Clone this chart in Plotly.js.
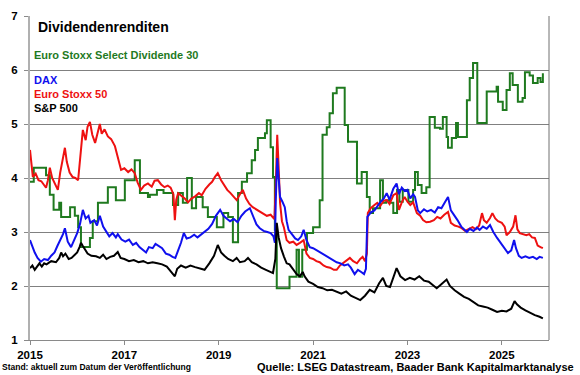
<!DOCTYPE html>
<html>
<head>
<meta charset="utf-8">
<script src="https://cdn.plot.ly/plotly-3.0.1.min.js"></script>
<style>html,body{margin:0;padding:0;background:#fff;}#chart{width:580px;height:375px;}</style>
</head>
<body>
<div id="chart"></div>
<script>
// ---- Data (decimal years, dividend yield in %) ----
const spT = [2015.0,2015.05,2015.1,2015.15,2015.2,2015.25,2015.3,2015.35,2015.45,2015.55,2015.62,2015.66,2015.7,2015.75,2015.82,2015.88,2015.95,2016.0,2016.05,2016.08,2016.12,2016.17,2016.22,2016.3,2016.4,2016.48,2016.55,2016.62,2016.7,2016.78,2016.86,2016.92,2017.0,2017.1,2017.2,2017.3,2017.4,2017.5,2017.6,2017.7,2017.8,2017.9,2018.0,2018.07,2018.12,2018.2,2018.3,2018.4,2018.5,2018.6,2018.7,2018.8,2018.9,2018.98,2019.05,2019.12,2019.2,2019.3,2019.38,2019.45,2019.55,2019.62,2019.7,2019.8,2019.9,2020.0,2020.1,2020.15,2020.2,2020.23,2020.27,2020.32,2020.38,2020.44,2020.5,2020.58,2020.65,2020.72,2020.78,2020.82,2020.9,2021.0,2021.1,2021.2,2021.3,2021.4,2021.5,2021.6,2021.7,2021.8,2021.9,2022.0,2022.1,2022.2,2022.3,2022.4,2022.48,2022.55,2022.63,2022.7,2022.77,2022.85,2022.95,2023.05,2023.15,2023.25,2023.35,2023.45,2023.55,2023.62,2023.7,2023.78,2023.83,2023.9,2024.0,2024.1,2024.2,2024.3,2024.4,2024.5,2024.6,2024.7,2024.8,2024.9,2025.0,2025.1,2025.2,2025.27,2025.32,2025.4,2025.5,2025.6,2025.7,2025.8,2025.87];
const spV = [2.33,2.38,2.30,2.36,2.42,2.36,2.42,2.40,2.46,2.44,2.52,2.62,2.55,2.60,2.50,2.52,2.58,2.62,2.72,2.80,2.74,2.66,2.60,2.56,2.55,2.52,2.58,2.50,2.54,2.56,2.63,2.52,2.50,2.46,2.48,2.44,2.46,2.42,2.44,2.42,2.40,2.36,2.26,2.18,2.32,2.38,2.34,2.38,2.35,2.33,2.30,2.42,2.56,2.76,2.62,2.56,2.50,2.46,2.52,2.44,2.46,2.52,2.44,2.40,2.34,2.30,2.26,2.24,2.50,3.17,2.90,2.70,2.55,2.42,2.40,2.30,2.22,2.18,2.26,2.18,2.08,2.04,1.98,1.96,1.92,1.93,1.89,1.86,1.90,1.82,1.78,1.74,1.82,1.93,1.88,2.05,2.15,2.00,1.98,2.15,2.33,2.18,2.11,2.15,2.12,2.18,2.10,2.08,2.00,1.96,2.02,2.08,2.12,2.00,1.92,1.86,1.80,1.76,1.70,1.64,1.62,1.60,1.56,1.52,1.54,1.53,1.58,1.72,1.66,1.60,1.55,1.50,1.46,1.43,1.40];

const daxT = [2015.0,2015.04,2015.1,2015.16,2015.23,2015.3,2015.38,2015.45,2015.52,2015.58,2015.65,2015.7,2015.74,2015.8,2015.87,2015.93,2016.0,2016.06,2016.12,2016.18,2016.24,2016.28,2016.36,2016.42,2016.48,2016.55,2016.62,2016.68,2016.75,2016.82,2016.86,2016.94,2017.02,2017.1,2017.18,2017.25,2017.32,2017.4,2017.46,2017.52,2017.6,2017.66,2017.72,2017.8,2017.88,2017.95,2018.02,2018.08,2018.14,2018.2,2018.26,2018.32,2018.4,2018.48,2018.55,2018.62,2018.7,2018.78,2018.86,2018.94,2019.03,2019.1,2019.18,2019.24,2019.32,2019.4,2019.48,2019.56,2019.66,2019.72,2019.8,2019.87,2019.95,2020.03,2020.1,2020.16,2020.19,2020.21,2020.24,2020.27,2020.3,2020.35,2020.4,2020.44,2020.48,2020.55,2020.62,2020.68,2020.75,2020.8,2020.86,2020.93,2021.0,2021.08,2021.14,2021.22,2021.3,2021.38,2021.45,2021.5,2021.58,2021.66,2021.74,2021.8,2021.88,2021.95,2022.02,2022.08,2022.12,2022.15,2022.22,2022.3,2022.35,2022.42,2022.5,2022.56,2022.62,2022.7,2022.77,2022.82,2022.88,2022.94,2023.0,2023.06,2023.12,2023.16,2023.22,2023.27,2023.35,2023.42,2023.5,2023.58,2023.65,2023.72,2023.8,2023.86,2023.92,2024.0,2024.06,2024.14,2024.2,2024.26,2024.32,2024.4,2024.47,2024.53,2024.6,2024.68,2024.75,2024.82,2024.9,2024.98,2025.05,2025.13,2025.2,2025.26,2025.3,2025.36,2025.42,2025.5,2025.58,2025.66,2025.74,2025.8,2025.87];
const daxV = [2.85,2.75,2.62,2.52,2.45,2.50,2.48,2.56,2.62,2.74,2.86,2.96,3.07,2.82,2.72,2.84,2.98,3.15,3.41,3.25,3.30,3.17,3.22,3.12,3.30,3.10,3.00,2.92,2.98,2.90,2.96,2.86,2.82,2.86,2.76,2.80,2.72,2.66,2.62,2.72,2.70,2.78,2.74,2.70,2.60,2.58,2.54,2.52,2.66,2.80,2.98,2.88,2.90,2.95,2.90,2.95,3.00,3.06,3.15,3.30,3.41,3.30,3.24,3.20,3.24,3.18,3.30,3.38,3.44,3.30,3.14,3.07,3.02,3.00,2.98,2.92,2.80,3.60,4.37,4.00,3.65,3.56,3.46,3.20,3.04,2.96,2.88,2.85,2.92,3.04,2.85,2.72,2.70,2.66,2.63,2.58,2.54,2.50,2.46,2.44,2.42,2.38,2.40,2.34,2.22,2.30,2.26,2.22,2.32,3.28,3.36,3.40,3.46,3.55,3.62,3.72,3.60,3.80,3.90,3.70,3.82,3.76,3.78,3.62,3.70,3.65,3.40,3.35,3.42,3.38,3.41,3.36,3.46,3.44,3.56,3.65,3.40,3.30,3.22,3.10,3.05,3.00,3.06,3.02,3.08,3.04,3.10,3.06,3.13,3.00,2.89,2.80,2.72,2.61,2.66,2.85,2.70,2.56,2.52,2.55,2.52,2.54,2.50,2.54,2.52];

const sx5T = [2015.0,2015.03,2015.06,2015.12,2015.18,2015.24,2015.3,2015.34,2015.38,2015.42,2015.47,2015.53,2015.59,2015.64,2015.7,2015.74,2015.78,2015.84,2015.9,2015.96,2016.02,2016.06,2016.12,2016.18,2016.22,2016.27,2016.32,2016.38,2016.43,2016.48,2016.52,2016.58,2016.65,2016.72,2016.8,2016.86,2016.93,2017.0,2017.08,2017.15,2017.22,2017.28,2017.35,2017.42,2017.5,2017.58,2017.64,2017.71,2017.78,2017.85,2017.92,2017.98,2018.04,2018.07,2018.1,2018.14,2018.2,2018.28,2018.35,2018.42,2018.5,2018.58,2018.64,2018.72,2018.8,2018.86,2018.92,2018.98,2019.05,2019.12,2019.18,2019.25,2019.32,2019.38,2019.45,2019.51,2019.58,2019.65,2019.72,2019.8,2019.88,2019.95,2020.02,2020.1,2020.14,2020.18,2020.21,2020.24,2020.27,2020.3,2020.34,2020.38,2020.44,2020.5,2020.58,2020.65,2020.72,2020.8,2020.86,2020.93,2021.0,2021.07,2021.14,2021.22,2021.29,2021.36,2021.44,2021.5,2021.57,2021.63,2021.7,2021.78,2021.85,2021.93,2022.0,2022.05,2022.1,2022.14,2022.16,2022.22,2022.3,2022.36,2022.42,2022.5,2022.56,2022.62,2022.7,2022.77,2022.82,2022.88,2022.94,2023.0,2023.06,2023.12,2023.2,2023.27,2023.33,2023.4,2023.48,2023.56,2023.63,2023.7,2023.78,2023.86,2023.92,2024.0,2024.08,2024.15,2024.22,2024.3,2024.38,2024.45,2024.52,2024.58,2024.62,2024.68,2024.75,2024.8,2024.86,2024.92,2025.0,2025.06,2025.1,2025.17,2025.24,2025.29,2025.33,2025.38,2025.45,2025.52,2025.58,2025.64,2025.7,2025.76,2025.82,2025.87];
const sx5V = [4.52,4.30,4.02,4.08,3.96,3.94,3.88,3.82,3.96,4.19,4.00,3.90,3.78,4.10,4.40,4.56,4.30,4.10,4.02,4.00,3.96,4.30,4.89,4.70,4.95,5.04,4.80,4.65,4.85,5.00,4.82,4.90,4.77,4.72,4.59,4.40,4.15,4.18,4.11,4.16,4.09,3.92,3.78,3.86,3.90,3.84,3.95,3.96,3.88,3.83,3.86,3.82,3.70,3.22,3.60,3.72,3.68,3.62,3.55,3.62,3.66,3.72,3.68,3.80,3.88,3.93,4.02,4.09,3.96,3.86,3.78,3.72,3.64,3.59,3.70,3.78,3.62,3.52,3.46,3.42,3.38,3.35,3.30,3.32,3.28,3.24,3.90,4.80,4.20,3.54,3.20,3.09,2.85,2.80,2.82,2.76,2.80,2.85,2.60,2.52,2.50,2.46,2.44,2.38,2.35,2.34,2.30,2.30,2.38,2.42,2.46,2.52,2.46,2.42,2.50,2.54,2.46,2.60,3.35,3.44,3.50,3.54,3.48,3.58,3.59,3.52,3.68,3.72,3.41,3.55,3.65,3.56,3.50,3.55,3.35,3.30,3.22,3.18,3.19,3.22,3.28,3.25,3.32,3.37,3.17,3.12,3.10,3.07,3.02,3.06,3.09,3.05,3.12,3.35,3.22,3.17,3.26,3.35,3.25,3.20,3.17,3.10,2.94,3.00,3.10,3.31,3.05,2.98,2.96,2.94,2.96,2.90,2.89,2.75,2.72,2.70];

const sd30T = [2015.0,2015.08,2015.34,2015.42,2015.5,2015.62,2015.66,2015.85,2015.95,2016.02,2016.08,2016.27,2016.33,2016.44,2016.65,2016.82,2017.01,2017.22,2017.33,2017.5,2017.54,2017.69,2017.83,2018.03,2018.14,2018.24,2018.33,2018.43,2018.52,2018.66,2018.77,2018.96,2019.1,2019.2,2019.3,2019.41,2019.49,2019.6,2019.7,2019.77,2019.83,2019.98,2020.02,2020.1,2020.15,2020.19,2020.23,2020.5,2020.65,2020.7,2020.77,2020.87,2021.0,2021.14,2021.2,2021.29,2021.35,2021.42,2021.5,2021.67,2021.74,2021.93,2022.03,2022.14,2022.2,2022.27,2022.42,2022.48,2022.55,2022.63,2022.7,2022.78,2022.83,2022.9,2023.02,2023.12,2023.16,2023.22,2023.3,2023.4,2023.47,2023.58,2023.69,2023.75,2023.83,2023.86,2023.94,2024.03,2024.07,2024.26,2024.32,2024.39,2024.48,2024.68,2024.89,2024.92,2025.02,2025.1,2025.17,2025.23,2025.34,2025.44,2025.49,2025.59,2025.66,2025.76,2025.82,2025.87];
const sd30V = [3.93,4.19,4.05,3.69,3.41,3.54,3.28,3.46,3.30,3.09,2.72,2.89,3.20,3.54,3.83,3.59,3.96,4.33,3.72,3.65,3.69,3.78,3.72,3.50,3.72,3.54,4.00,3.44,3.65,3.46,3.28,3.09,3.35,3.28,2.81,3.72,3.93,4.09,4.33,4.52,4.74,4.83,5.07,4.57,4.02,3.04,1.96,2.17,2.67,2.17,2.67,2.98,3.09,3.59,4.80,4.94,5.20,5.57,5.67,4.98,4.67,3.90,4.11,3.65,3.35,3.44,3.96,3.54,3.59,3.54,3.35,3.78,3.56,3.78,3.56,3.78,4.11,3.87,3.72,3.83,5.13,4.93,4.91,5.13,4.76,4.56,4.74,5.02,4.76,5.44,5.85,6.13,5.02,5.60,5.69,5.41,5.26,5.63,5.94,5.72,5.41,5.48,5.96,5.90,5.76,5.85,5.78,5.94];

const xTickVals = [2015, 2017, 2019, 2021, 2023, 2025];
const xTickText = ["2015", "2017", "2019", "2021", "2023", "2025"];
const yTickVals = [1, 2, 3, 4, 5, 6, 7];

const COL_GREEN = '#1f7a1f', COL_BLUE = '#1010ee', COL_RED = '#ee1111', COL_BLACK = '#000000';
const FONT = 'Liberation Sans, Arial, sans-serif';

const traces = [
  {x: sd30T, y: sd30V, mode: 'lines', line: {color: COL_GREEN, width: 2, shape: 'hv'}, name: 'Euro Stoxx Select Dividende 30'},
  {x: sx5T, y: sx5V, mode: 'lines', line: {color: COL_RED, width: 2}, name: 'Euro Stoxx 50'},
  {x: daxT, y: daxV, mode: 'lines', line: {color: COL_BLUE, width: 2}, name: 'DAX'},
  {x: spT, y: spV, mode: 'lines', line: {color: COL_BLACK, width: 2}, name: 'S&P 500'}
];

function lab(text, x, y, size, color, anchor) {
  return {text: text, xref: 'paper', yref: 'paper', x: x, y: y, xanchor: anchor || 'left', yanchor: 'middle',
    showarrow: false, font: {family: FONT, size: size, color: color, weight: 'bold'}};
}

const layout = {
  width: 580, height: 375,
  margin: {l: 30, r: 31, t: 16, b: 35},
  paper_bgcolor: '#ffffff', plot_bgcolor: '#ffffff',
  showlegend: false, hovermode: false,
  xaxis: {
    range: [2015, 2026], tickvals: xTickVals, ticktext: xTickText,
    showgrid: false, zeroline: false, showline: true, linecolor: '#8a8a8a', linewidth: 1,
    ticks: 'outside', ticklen: 4, tickcolor: '#8a8a8a',
    tickfont: {family: FONT, size: 11.5, color: '#000', weight: 'bold'}
  },
  yaxis: {
    range: [1, 7], tickvals: yTickVals,
    showgrid: true, gridcolor: '#808080', gridwidth: 1, zeroline: false,
    showline: true, linecolor: '#b0b0b0', linewidth: 2,
    ticks: 'outside', ticklen: 4, tickcolor: '#8a8a8a', ticklabelstandoff: 4,
    tickfont: {family: FONT, size: 11.5, color: '#000', weight: 'bold'}
  },
  shapes: [
    {type: 'line', xref: 'paper', yref: 'paper', x0: 1, x1: 1, y0: 0, y1: 1, line: {color: '#707070', width: 1}}
  ],
  annotations: [
    lab('Dividendenrenditen', 0.011, 0.966, 14, '#000'),
    lab('Euro Stoxx Select Dividende 30', 0.003, 0.880, 11, COL_GREEN),
    lab('DAX', 0.003, 0.802, 11, COL_BLUE),
    lab('Euro Stoxx 50', 0.003, 0.759, 11, COL_RED),
    lab('S&P 500', 0.003, 0.716, 11, COL_BLACK),
    lab('Stand: aktuell zum Datum der Veröffentlichung', -0.058, -0.083, 8.5, '#000'),
    lab('Quelle: LSEG Datastream, Baader Bank Kapitalmarktanalyse', 1.052, -0.083, 11, '#000', 'right')
  ]
};

Plotly.newPlot('chart', traces, layout, {displayModeBar: false, staticPlot: true});
</script>
</body>
</html>
